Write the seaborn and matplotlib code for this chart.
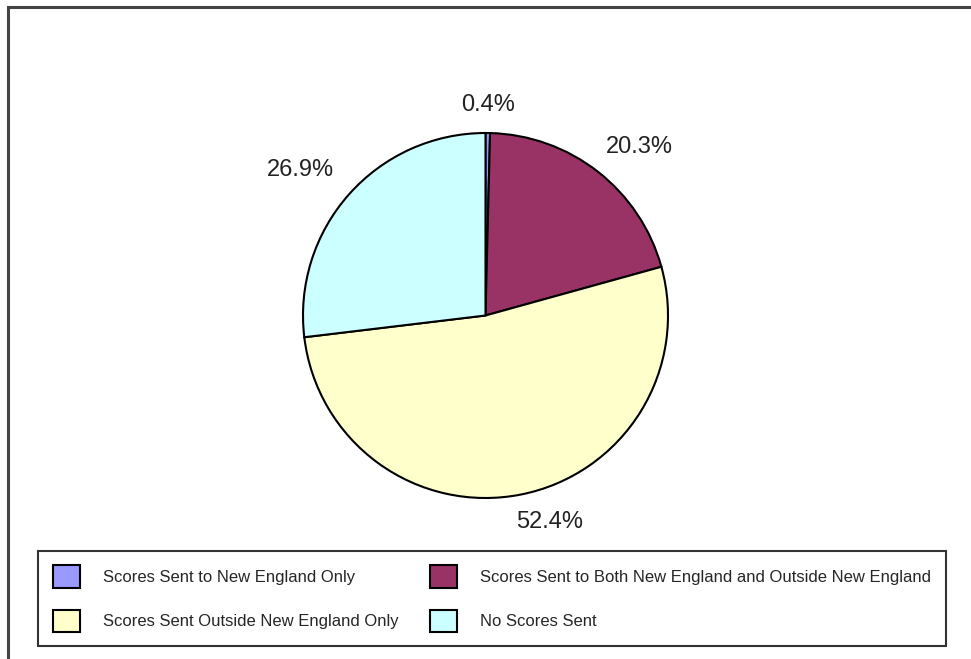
import numpy as np
import matplotlib
matplotlib.use("Agg")
import matplotlib.pyplot as plt
import seaborn as sns
from matplotlib.patches import Rectangle

categories = ["Scores Sent to New England Only",
              "Scores Sent to Both New England and Outside New England",
              "Scores Sent Outside New England Only",
              "No Scores Sent"]
values = [0.4, 20.3, 52.4, 26.9]
colors = ["#9999FF", "#993366", "#FFFFCC", "#CCFFFF"]
label_dist = [1.153, 1.25, 1.185, 1.29]
label_shift_deg = [0.0, -4.4, 6.0, 3.5]

sns.set_theme(style="white")
plt.rcParams['font.family'] = ['Liberation Sans', 'DejaVu Sans']

fig = plt.figure(figsize=(9.71, 6.59), dpi=100)
fig.patch.set_facecolor("white")

# outer frame (left and top visible)
fig.patches.append(Rectangle((8/971, -0.1), 1.2, 1 - 7/659 + 0.1,
                             transform=fig.transFigure, fill=False,
                             edgecolor="#444444", linewidth=2.2, zorder=0))

ax = fig.add_axes([(485.5-182.5)/971, 1-(315.5+182.5)/659, 365/971, 365/659])
wedges, texts = ax.pie(values, colors=colors, startangle=90, counterclock=False,
                       wedgeprops=dict(edgecolor="black", linewidth=1.5))
ax.set_xlim(-1, 1)
ax.set_ylim(-1, 1)
ax.set_aspect("equal")
ax.axis("off")

for w, v, d, s in zip(wedges, values, label_dist, label_shift_deg):
    ang = np.deg2rad((w.theta1 + w.theta2) / 2 + s)
    ax.text(d*np.cos(ang), d*np.sin(ang), f"{v:.1f}%", ha="center", va="center",
            fontsize=17, color="#222222", clip_on=False)

handles = [Rectangle((0, 0), 1, 1, facecolor=c, edgecolor="black", linewidth=1.5)
           for c in colors]
order = [0, 2, 1, 3]  # row-wise filling like the reference
leg = fig.legend([handles[i] for i in order], [categories[i] for i in order],
                 ncol=2, loc="center", mode="expand",
                 bbox_to_anchor=(38/971, 1-647/659, 908/971, 97/659),
                 frameon=True, fancybox=False, fontsize=12,
                 handlelength=1.62, handleheight=1.68, handletextpad=1.4,
                 labelspacing=1.32, borderpad=0.88, borderaxespad=0,
                 columnspacing=1.3)
leg.get_frame().set_edgecolor("black")
leg.get_frame().set_linewidth(1.5)

fig.savefig("out.png", dpi=100)
